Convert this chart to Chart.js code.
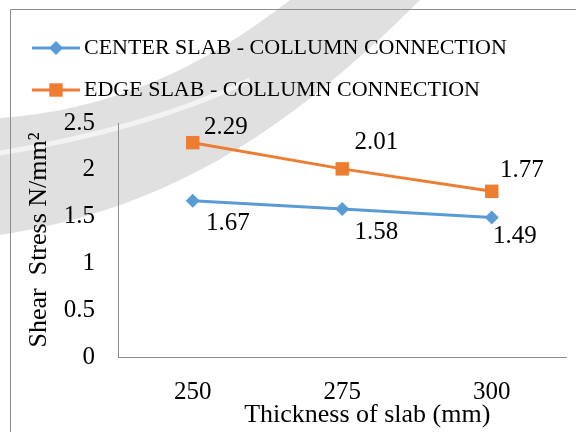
<!DOCTYPE html>
<html>
<head>
<meta charset="utf-8">
<script src="https://cdn.jsdelivr.net/npm/chart.js@4/dist/chart.umd.min.js"></script>
<style>
  html, body { margin: 0; padding: 0; background: #ffffff; overflow: hidden; font-family: "Liberation Serif", serif; }
  #wrap { width: 576px; height: 432px; position: relative; }
</style>
</head>
<body>
<div id="wrap"><canvas id="c" width="576" height="432"></canvas></div>
<script>
// Slab thickness (mm) and punching shear stress at the slab-column joint
const thickness = ['250', '275', '300'];
const centerStress = [1.67, 1.58, 1.49];
const edgeStress = [2.29, 2.01, 1.77];
const seriesNames = ['CENTER SLAB - COLLUMN CONNECTION', 'EDGE SLAB - COLLUMN CONNECTION'];
const yMin = 0, yMax = 2.5, yStep = 0.5;
const xTitle = 'Thickness of slab (mm)';
const yTitle = 'Shear  Stress N/mm\u00B2';

const FONT = "'Liberation Serif', serif";
const BLUE = '#5B9BD5';
const ORANGE = '#ED7D31';
const AXIS = '#8c8c8c';

function marker(ctx, style, x, y, r, color) {
  ctx.save();
  ctx.fillStyle = color;
  ctx.beginPath();
  if (style === 'rect') {
    const s = r * Math.SQRT1_2;
    ctx.rect(x - s, y - s, 2 * s, 2 * s);
  } else {
    ctx.moveTo(x, y - r); ctx.lineTo(x + r, y); ctx.lineTo(x, y + r); ctx.lineTo(x - r, y);
    ctx.closePath();
  }
  ctx.fill();
  ctx.restore();
}

// page frame and faint background swoosh
const backdrop = {
  id: 'backdrop',
  beforeDraw(chart) {
    const ctx = chart.ctx;
    ctx.save();
    // broad grey band sweeping from the left edge up to the top
    ctx.fillStyle = 'rgba(0,0,0,0.12)';
    ctx.beginPath();
    ctx.moveTo(0, 235);
    ctx.bezierCurveTo(160, 210, 280, 140, 420, 0);
    ctx.lineTo(290, 0);
    ctx.bezierCurveTo(200, 70, 110, 110, 0, 118);
    ctx.closePath();
    ctx.fill();
    // thin light streak inside the band
    ctx.strokeStyle = 'rgba(255,255,255,0.6)';
    ctx.lineWidth = 5;
    ctx.beginPath();
    ctx.moveTo(0, 153);
    ctx.bezierCurveTo(80, 140, 170, 118, 250, 80);
    ctx.stroke();
    // frame
    ctx.strokeStyle = AXIS;
    ctx.lineWidth = 1;
    ctx.beginPath();
    ctx.moveTo(10.5, 432); ctx.lineTo(10.5, 9.5); ctx.lineTo(576, 9.5);
    ctx.stroke();
    ctx.restore();
  }
};

// legend rows: line sample with marker, then series name
const lineLegend = {
  id: 'lineLegend',
  afterDraw(chart) {
    const ctx = chart.ctx;
    const rows = [48, 90];
    ctx.save();
    chart.data.datasets.forEach((ds, i) => {
      const y = rows[i];
      ctx.strokeStyle = ds.borderColor;
      ctx.lineWidth = 3;
      ctx.beginPath(); ctx.moveTo(32, y); ctx.lineTo(80, y); ctx.stroke();
      marker(ctx, ds.pointStyle, 56, y, ds.pointRadius, ds.borderColor);
      ctx.fillStyle = '#000';
      ctx.font = '22px ' + FONT;
      ctx.textAlign = 'left';
      ctx.textBaseline = 'middle';
      ctx.fillText(ds.label, 84, y);
    });
    ctx.restore();
  }
};

// value labels beside each point
const valueLabels = {
  id: 'valueLabels',
  afterDatasetsDraw(chart, args, opts) {
    const ctx = chart.ctx;
    ctx.save();
    ctx.fillStyle = '#000';
    ctx.font = '25px ' + FONT;
    ctx.textAlign = 'center';
    ctx.textBaseline = 'middle';
    chart.data.datasets.forEach((ds, i) => {
      const meta = chart.getDatasetMeta(i);
      meta.data.forEach((pt, j) => {
        const off = opts.offsets[i][j];
        ctx.fillText(ds.data[j].toFixed(2), pt.x + off[0], pt.y + off[1]);
      });
    });
    ctx.restore();
  }
};

// x axis title, sitting a little right of the plot centre
const xAxisTitle = {
  id: 'xAxisTitle',
  afterDraw(chart) {
    const ctx = chart.ctx;
    const a = chart.chartArea;
    ctx.save();
    ctx.fillStyle = '#000';
    ctx.font = '26px ' + FONT;
    ctx.textAlign = 'center';
    ctx.textBaseline = 'middle';
    ctx.fillText(xTitle, (a.left + a.right) / 2 + 25, 415);
    ctx.restore();
  }
};

function build() {
  new Chart(document.getElementById('c'), {
    type: 'line',
    data: {
      labels: thickness,
      datasets: [
        {
          label: seriesNames[0],
          data: centerStress,
          borderColor: BLUE,
          backgroundColor: BLUE,
          pointBackgroundColor: BLUE,
          pointBorderWidth: 0,
          pointStyle: 'rectRot',
          pointRadius: 7,
          borderWidth: 3,
          tension: 0,
          clip: false
        },
        {
          label: seriesNames[1],
          data: edgeStress,
          borderColor: ORANGE,
          backgroundColor: ORANGE,
          pointBackgroundColor: ORANGE,
          pointBorderWidth: 0,
          pointStyle: 'rect',
          pointRadius: 9.5,
          borderWidth: 3,
          tension: 0,
          clip: false
        }
      ]
    },
    options: {
      responsive: false,
      animation: false,
      layout: { padding: { top: 123, left: 0, right: 0, bottom: 0 } },
      plugins: {
        legend: { display: false },
        tooltip: { enabled: false },
        valueLabels: {
          offsets: [
            [[35, 23], [34, 23], [23, 19]],
            [[33, -15], [34, -26], [30, -21]]
          ]
        }
      },
      scales: {
        x: {
          type: 'category',
          offset: true,
          grid: { display: false },
          border: { display: true, color: AXIS, width: 1 },
          ticks: { color: '#000', font: { family: FONT, size: 25 }, padding: 12 },
          afterFit(s) { s.height = 75; }
        },
        y: {
          min: yMin,
          max: yMax,
          grid: { display: false },
          border: { display: true, color: AXIS, width: 1 },
          ticks: {
            stepSize: yStep,
            color: '#000',
            font: { family: FONT, size: 25 },
            padding: 15,
            callback: v => String(Math.round(v * 10) / 10)
          },
          title: { display: true, text: yTitle, color: '#000', font: { family: FONT, size: 26 }, padding: { top: 24, bottom: 0 } },
          afterFit(s) { s.width = 118; }
        }
      }
    },
    plugins: [backdrop, lineLegend, valueLabels, xAxisTitle]
  });
}

Chart.defaults.font.family = FONT;
if (document.fonts && document.fonts.load) {
  Promise.all([
    document.fonts.load("22px 'Liberation Serif'"),
    document.fonts.load("25px 'Liberation Serif'")
  ]).then(build, build);
} else {
  build();
}
</script>
</body>
</html>
